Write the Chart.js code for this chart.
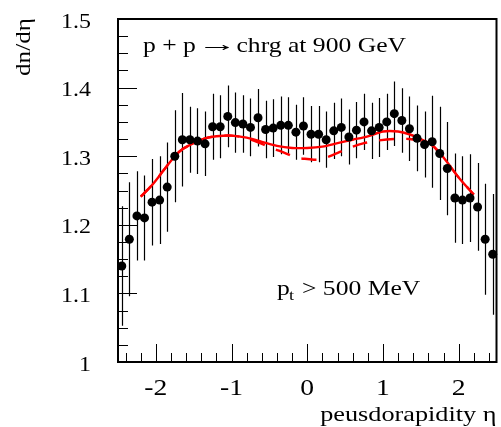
<!DOCTYPE html>
<html>
<head>
<meta charset="utf-8">
<script src="https://cdn.jsdelivr.net/npm/chart.js@4.4.1/dist/chart.umd.min.js"></script>
<style>
  html, body { margin: 0; padding: 0; background: #fff; }
  canvas { display: block; }
</style>
</head>
<body>
<canvas id="etaChart" width="501" height="427"></canvas>
<script>
// pseudorapidity bins (bin centres)
const eta = [-2.45,-2.35,-2.25,-2.15,-2.05,-1.95,-1.85,-1.75,-1.65,-1.55,
             -1.45,-1.35,-1.25,-1.15,-1.05,-0.95,-0.85,-0.75,-0.65,-0.55,
             -0.45,-0.35,-0.25,-0.15,-0.05, 0.05, 0.15, 0.25, 0.35, 0.45,
              0.55, 0.65, 0.75, 0.85, 0.95, 1.05, 1.15, 1.25, 1.35, 1.45,
              1.55, 1.65, 1.75, 1.85, 1.95, 2.05, 2.15, 2.25, 2.35, 2.45];
// measured dn/deta
const dndeta = [1.140,1.179,1.213,1.210,1.233,1.236,1.255,1.300,1.324,1.324,
                1.322,1.318,1.343,1.343,1.358,1.349,1.347,1.342,1.356,1.339,
                1.341,1.345,1.345,1.335,1.344,1.332,1.332,1.324,1.337,1.342,
                1.328,1.338,1.350,1.337,1.342,1.350,1.362,1.352,1.340,1.326,
                1.317,1.321,1.304,1.282,1.239,1.236,1.239,1.226,1.179,1.157];
const dndetaErr = [0.087,0.083,0.065,0.062,0.063,0.064,0.065,0.067,0.068,0.048,
                   0.048,0.047,0.048,0.046,0.045,0.044,0.042,0.042,0.042,0.042,
                   0.042,0.042,0.041,0.040,0.042,0.041,0.041,0.041,0.041,0.042,
                   0.040,0.041,0.041,0.041,0.043,0.041,0.047,0.047,0.047,0.048,
                   0.048,0.067,0.068,0.068,0.065,0.064,0.064,0.064,0.081,0.088];

// model curves (solid and dashed)
const solidEta  = [-2.2,-2.05,-1.9,-1.75,-1.65,-1.5,-1.35,-1.2,-1.0,-0.8,-0.6,-0.4,-0.2,0.0,
                   0.2,0.4,0.6,0.8,1.0,1.2,1.35,1.5,1.65,1.8,2.0,2.2];
const solidVals = [1.241,1.258,1.279,1.300,1.310,1.319,1.326,1.329,1.330,1.327,1.321,1.315,1.312,1.312,
                   1.314,1.319,1.324,1.329,1.336,1.336,1.332,1.325,1.316,1.298,1.269,1.244];
const dashEta  = [-2.2,-2.05,-1.9,-1.75,-1.65,-1.5,-1.35,-1.2,-1.0,-0.8,-0.6,-0.45,-0.3,-0.15,0.0,
                  0.15,0.3,0.45,0.6,0.75,0.95,1.15,1.35,1.5,1.65,1.8,2.0,2.2];
const dashVals = [1.241,1.258,1.279,1.300,1.310,1.319,1.326,1.329,1.330,1.326,1.318,1.311,1.305,1.298,1.296,
                  1.295,1.300,1.307,1.314,1.319,1.323,1.325,1.325,1.322,1.316,1.298,1.269,1.244];

// axis ticks
const xTicks = [-2, -1, 0, 1, 2];
const xTickLabels = ["-2", "-1", "0", "1", "2"];
const yTicks = [1, 1.1, 1.2, 1.3, 1.4, 1.5];
const yTickLabels = ["1", "1.1", "1.2", "1.3", "1.4", "1.5"];

const FONT = "'Liberation Serif', 'Times New Roman', serif";

// text stretched horizontally a bit, like the original render
function wideText(ctx, str, x, y, size, align, sx, rot) {
  ctx.save();
  ctx.translate(x, y);
  if (rot) ctx.rotate(rot);
  ctx.scale(sx, 1);
  ctx.font = size + "px " + FONT;
  ctx.textAlign = align;
  ctx.textBaseline = "alphabetic";
  ctx.fillStyle = "#000";
  ctx.fillText(str, 0, 0);
  ctx.restore();
}

const rootFrame = {
  id: 'rootFrame',
  beforeDatasetsDraw(chart) {
    // error bars
    const ctx = chart.ctx, xs = chart.scales.x, ys = chart.scales.y;
    ctx.save();
    ctx.strokeStyle = "#000";
    ctx.lineWidth = 1.2;
    ctx.beginPath();
    eta.forEach((e, i) => {
      const px = Math.round(xs.getPixelForValue(e)) + 0.5;
      ctx.moveTo(px, ys.getPixelForValue(dndeta[i] + dndetaErr[i]));
      ctx.lineTo(px, ys.getPixelForValue(dndeta[i] - dndetaErr[i]));
    });
    ctx.stroke();
    ctx.restore();
  },
  afterDraw(chart) {
    const ctx = chart.ctx, xs = chart.scales.x, ys = chart.scales.y;
    const a = chart.chartArea;
    ctx.save();
    ctx.strokeStyle = "#000";

    // inner ticks
    ctx.lineWidth = 1;
    ctx.beginPath();
    for (let k = 0; k <= 20; k++) {
      const py = Math.round(ys.getPixelForValue(1 + k * 0.025)) + 0.5;
      const len = k % 4 === 0 ? 19 : 10;
      ctx.moveTo(a.left, py);
      ctx.lineTo(a.left + len, py);
    }
    for (let k = -12; k <= 12; k++) {
      const px = Math.round(xs.getPixelForValue(k * 0.2)) + 0.5;
      const len = k % 5 === 0 ? 18 : 9;
      ctx.moveTo(px, a.bottom);
      ctx.lineTo(px, a.bottom - len);
    }
    ctx.stroke();

    // frame
    ctx.lineWidth = 2;
    ctx.strokeRect(a.left, a.top, a.right - a.left, a.bottom - a.top);
    ctx.restore();

    // tick labels
    yTicks.forEach((v, i) => {
      wideText(ctx, yTickLabels[i], 91, ys.getPixelForValue(v) + 8.5, 21, "right", 1.14);
    });
    xTicks.forEach((v, i) => {
      wideText(ctx, xTickLabels[i], xs.getPixelForValue(v), 395, 23, "center", 1.2);
    });

    // axis titles
    wideText(ctx, "peusdorapidity \u03b7", a.right, 421, 21, "right", 1.25);
    wideText(ctx, "dn/d\u03b7", 29.5, a.top - 1, 21, "right", 1.2, -Math.PI / 2);

    // labels inside the pad
    wideText(ctx, "p + p", 143, 52, 21, "left", 1.22);
    wideText(ctx, "\u2192", 217.5, 51, 21, "center", 1.9);
    wideText(ctx, "chrg at 900 GeV", 236.5, 52, 21, "left", 1.22);
    wideText(ctx, "p", 277, 295, 21, "left", 1.22);
    wideText(ctx, "t", 289, 300, 15, "left", 1.22);
    wideText(ctx, "> 500 MeV", 302, 295, 21, "left", 1.22);
  }
};

new Chart(document.getElementById("etaChart"), {
  type: "scatter",
  data: {
    datasets: [
      {
        label: "data",
        data: eta.map((e, i) => ({ x: e, y: dndeta[i] })),
        backgroundColor: "#000",
        borderWidth: 0,
        pointRadius: 4.5,
        pointHoverRadius: 4.5,
        clip: 8,
        order: 0
      },
      {
        label: "model",
        type: "line",
        data: solidEta.map((e, i) => ({ x: e, y: solidVals[i] })),
        borderColor: "#ff0000",
        borderWidth: 2.4,
        pointRadius: 0,
        tension: 0.3,
        fill: false,
        order: 1
      },
      {
        label: "model (dashed)",
        type: "line",
        data: dashEta.map((e, i) => ({ x: e, y: dashVals[i] })),
        borderColor: "#ff0000",
        borderWidth: 2.4,
        borderDash: [15, 12],
        pointRadius: 0,
        tension: 0.3,
        fill: false,
        order: 2
      }
    ]
  },
  options: {
    responsive: false,
    animation: false,
    devicePixelRatio: 1,
    layout: { padding: { left: 118, top: 19, right: 4, bottom: 65 } },
    plugins: { legend: { display: false }, tooltip: { enabled: false } },
    scales: {
      x: { type: "linear", min: -2.5, max: 2.5, display: false },
      y: { type: "linear", min: 1, max: 1.5, display: false }
    }
  },
  plugins: [rootFrame]
});
</script>
</body>
</html>
